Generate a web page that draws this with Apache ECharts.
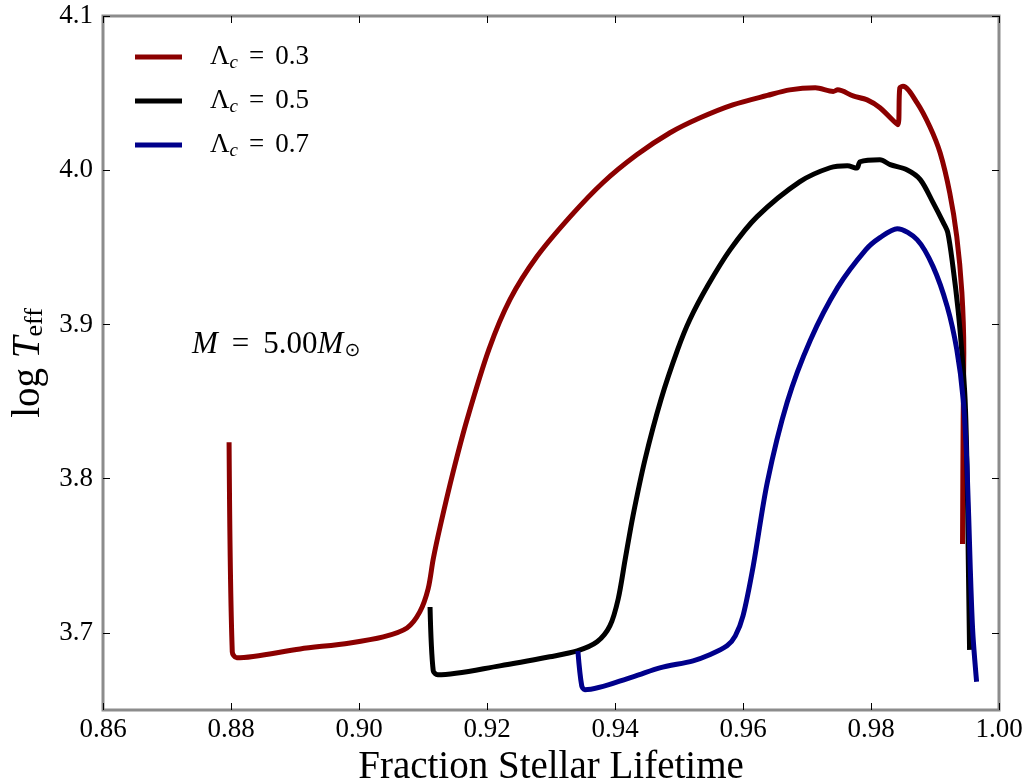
<!DOCTYPE html>
<html>
<head>
<meta charset="utf-8">
<script src="https://cdn.jsdelivr.net/npm/echarts@6/dist/echarts.min.js"></script>
<style>html,body{margin:0;padding:0;background:#fff}#c{width:1026px;height:783px}</style>
</head>
<body>
<div id="c"></div>
<script>
// Data (fraction of stellar lifetime, log Teff)
const seriesNames = ['Λc = 0.3', 'Λc = 0.5', 'Λc = 0.7'];
const lambdaValues = ['0.3', '0.5', '0.7'];
const xTicks = [0.86, 0.88, 0.90, 0.92, 0.94, 0.96, 0.98, 1.00];
const yTicks = [3.7, 3.8, 3.9, 4.0, 4.1];

const lambda03 = [
  [0.8797,3.8236],[0.8802,3.6877],[0.8809,3.6838],[0.8908,3.6896],[0.8986,3.6935],
  [0.9038,3.6974],[0.9075,3.7032],[0.9095,3.7136],[0.9108,3.7285],[0.9116,3.7479],
  [0.9127,3.7693],[0.9147,3.8042],[0.9169,3.8385],[0.9203,3.8838],[0.9236,3.9162],
  [0.9278,3.9440],[0.9330,3.9699],[0.9381,3.9919],[0.9434,4.0100],[0.9486,4.0243],
  [0.9533,4.0340],[0.9584,4.0424],[0.9638,4.0485],[0.9673,4.0521],[0.9713,4.0534],
  [0.9741,4.0511],[0.9748,4.0521],[0.9772,4.0482],[0.9794,4.0456],[0.9814,4.0405],
  [0.9842,4.0295],[0.9845,4.0534],[0.9850,4.0544],[0.9872,4.0437],[0.9892,4.0282],
  [0.9908,4.0113],[0.9923,3.9854],[0.9934,3.9570],[0.9942,3.9207],[0.9945,3.8819],
  [0.9944,3.8385],[0.9943,3.7576]
];
const lambda05 = [
  [0.9111,3.7168],[0.9116,3.6754],[0.9123,3.6728],[0.9220,3.6786],[0.9298,3.6845],
  [0.9341,3.6883],[0.9372,3.6942],[0.9392,3.7045],[0.9405,3.7220],[0.9416,3.7479],
  [0.9428,3.7757],[0.9447,3.8126],[0.9472,3.8515],[0.9498,3.8838],[0.9517,3.9032],
  [0.9545,3.9252],[0.9580,3.9485],[0.9622,3.9699],[0.9689,3.9926],[0.9736,4.0016],
  [0.9763,4.0029],[0.9778,4.0014],[0.9783,4.0055],[0.9814,4.0068],[0.9830,4.0036],
  [0.9856,4.0003],[0.9877,3.9939],[0.9897,3.9790],[0.9913,3.9660],[0.9920,3.9595],
  [0.9928,3.9375],[0.9936,3.9097],[0.9942,3.8819],[0.9947,3.8515],[0.9950,3.8081],
  [0.9952,3.7479],[0.9954,3.6890]
];
const lambda07 = [
  [0.9342,3.6883],[0.9348,3.6657],[0.9353,3.6631],[0.9428,3.6715],[0.9470,3.6773],
  [0.9522,3.6819],[0.9548,3.6858],[0.9575,3.6916],[0.9588,3.6981],[0.9600,3.7110],
  [0.9616,3.7434],[0.9638,3.7977],[0.9669,3.8495],[0.9705,3.8896],[0.9748,3.9240],
  [0.9792,3.9485],[0.9814,3.9563],[0.9841,3.9621],[0.9872,3.9550],[0.9897,3.9375],
  [0.9919,3.9117],[0.9934,3.8838],[0.9944,3.8515],[0.9950,3.8081],[0.9955,3.7434],
  [0.9959,3.7007],[0.9965,3.6683]
];
const colors = ['#8b0000', '#000000', '#00008b'];

const FONT = 'Liberation Serif';
const chart = echarts.init(document.getElementById('c'), null, {renderer: 'canvas'});

const tickCommon = {inside: true, length: 7, lineStyle: {color: '#000', width: 1}};
const legendMap = {};
seriesNames.forEach((n, i) => legendMap[n] = lambdaValues[i]);

chart.setOption({
  animation: false,
  backgroundColor: '#fff',
  grid: {left: 103, right: 27, top: 16, bottom: 73, containLabel: false, outerBoundsMode: 'none',
    show: true, borderColor: '#8c8c8c', borderWidth: 3, backgroundColor: 'transparent'},
  legend: {
    orient: 'vertical', left: 135, top: 42, padding: 0,
    itemWidth: 47, itemHeight: 5, itemGap: 14, icon: 'rect',
    data: seriesNames,
    formatter: n => '{L|Λ}{s|c}{e|=}{n|' + legendMap[n] + '}',
    textStyle: {
      fontFamily: FONT, fontSize: 27, color: '#000', padding: [0, 0, 0, 23], lineHeight: 30,
      rich: {
        L: {fontFamily: FONT, fontSize: 27, color: '#000', lineHeight: 30},
        s: {fontFamily: FONT, fontSize: 19, fontStyle: 'italic', color: '#000', lineHeight: 30, padding: [11, 0, 0, 0]},
        e: {fontFamily: FONT, fontSize: 27, color: '#000', lineHeight: 30, padding: [0, 11, 0, 11]},
        n: {fontFamily: FONT, fontSize: 27, color: '#000', lineHeight: 30}
      }
    }
  },
  xAxis: [{
    type: 'value', min: 0.86, max: 1.00, interval: 0.02, position: 'bottom',
    axisLine: {show: false}, splitLine: {show: false},
    axisTick: tickCommon,
    axisLabel: {fontFamily: FONT, fontSize: 27, color: '#000', margin: 6, formatter: v => v.toFixed(2)},
    name: 'Fraction Stellar Lifetime', nameLocation: 'middle', nameGap: 33,
    nameTextStyle: {fontFamily: FONT, fontSize: 39, color: '#000'}
  }, {
    type: 'value', min: 0.86, max: 1.00, interval: 0.02, position: 'top',
    axisLine: {show: false}, splitLine: {show: false},
    axisTick: tickCommon, axisLabel: {show: false}
  }],
  yAxis: [{
    type: 'value', min: 3.65, max: 4.1, position: 'left',
    axisLine: {show: false}, splitLine: {show: false},
    axisTick: Object.assign({customValues: yTicks}, tickCommon),
    axisLabel: {fontFamily: FONT, fontSize: 27, color: '#000', margin: 10, customValues: yTicks,
      formatter: v => v.toFixed(1)},
    name: '{a|log }{b|T}{c|eff}', nameLocation: 'middle', nameGap: 52, nameRotate: 90,
    nameTextStyle: {
      fontFamily: FONT, fontSize: 39, color: '#000',
      rich: {
        a: {fontFamily: FONT, fontSize: 39, color: '#000'},
        b: {fontFamily: FONT, fontSize: 39, fontStyle: 'italic', color: '#000'},
        c: {fontFamily: FONT, fontSize: 26, color: '#000', padding: [14, 0, 0, 0]}
      }
    }
  }, {
    type: 'value', min: 3.65, max: 4.1, position: 'right',
    axisLine: {show: false}, splitLine: {show: false},
    axisTick: Object.assign({customValues: yTicks}, tickCommon), axisLabel: {show: false}
  }],
  graphic: [{
    type: 'text', left: 192, top: 329,
    style: {
      text: '{m|M}{e|=}{n|5.00}{m|M}{o|⊙}',
      rich: {
        m: {fontFamily: FONT, fontSize: 31, fontStyle: 'italic', fill: '#000'},
        e: {fontFamily: FONT, fontSize: 31, fill: '#000', padding: [0, 14, 0, 14]},
        n: {fontFamily: FONT, fontSize: 31, fill: '#000'},
        o: {fontFamily: 'DejaVu Sans', fontSize: 19, fill: '#000', padding: [13, 0, 0, 1]}
      }
    }
  }],
  series: [lambda03, lambda05, lambda07].map((d, i) => ({
    name: seriesNames[i], type: 'line', data: d, showSymbol: false, symbol: 'none',
    xAxisIndex: 0, yAxisIndex: 0, smooth: 0.3,
    lineStyle: {color: colors[i], width: 5, join: 'round', cap: 'butt'},
    itemStyle: {color: colors[i]}, z: 3 + i
  }))
});
</script>
</body>
</html>
